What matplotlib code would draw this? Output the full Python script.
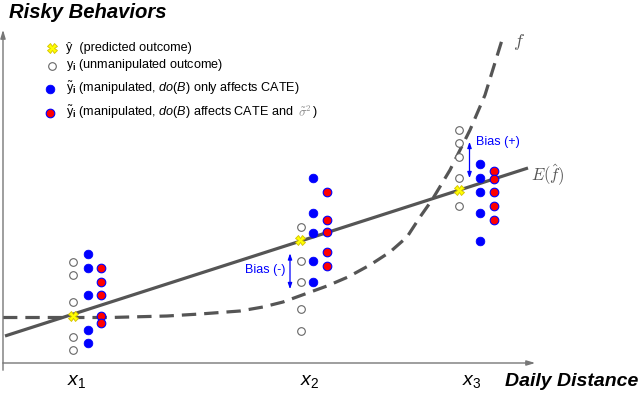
import numpy as np
import matplotlib.pyplot as plt

plt.rcParams['font.family'] = ['Liberation Sans', 'DejaVu Sans']
plt.rcParams['mathtext.fontset'] = 'custom'
plt.rcParams['mathtext.rm'] = 'Liberation Sans'
plt.rcParams['mathtext.it'] = 'Liberation Sans:italic'
plt.rcParams['mathtext.bf'] = 'Liberation Sans:bold'

# Datos (coordenadas de pixel, y hacia abajo)
fit_x = [5, 528]
fit_y = [336, 168]

true_x = [3, 60, 110, 167, 200, 240, 263, 283, 305, 327, 348, 370, 390, 407, 420, 432, 450, 470, 485, 502]
true_y = [317.5, 317.5, 317.5, 316, 314, 311, 307, 302, 294, 286, 277, 265, 252, 237, 217, 200, 170, 130, 95, 40]

pred_x = [72.7, 300.0, 459.3]
pred_y = [315.7, 240.0, 190.3]

obs_x = [72.7] * 5 + [300.7] * 5 + [459.3] * 5
obs_y = [262, 275, 302, 337, 350,
         226.7, 260.7, 281.7, 309.3, 330.7,
         130, 143.3, 157.3, 178.3, 205.7]

cate_x = [87.7] * 5 + [313.3] * 5 + [480.0] * 5
cate_y = [254, 268, 295, 330, 343,
          178.3, 212.7, 233.3, 260.7, 281.7,
          164.3, 178.3, 192.3, 212.7, 240.7]

var_x = [100.7] * 5 + [326.7] * 5 + [494.0] * 5
var_y = [268, 282, 295, 316, 323,
         192.3, 220, 231.7, 251.7, 266,
         170.7, 179, 192.3, 205.7, 220]

tick_x = [67, 300, 462]
tick_labels = [r"$\mathit{x}_{\mathit{1}}$", r"$\mathit{x}_{\mathit{2}}$", r"$\mathit{x}_{\mathit{3}}$"]

GRIS = '#555555'
AZUL = '#0000ff'
ROJO = '#ff0000'

fig = plt.figure(figsize=(6.4, 3.93), dpi=100)
ax = fig.add_axes([0, 0, 1, 1])
ax.set_xlim(0, 640)
ax.set_ylim(393, 0)
ax.axis('off')

# Ejes con flecha
ax.annotate('', xy=(538, 363), xytext=(0, 363),
            arrowprops=dict(arrowstyle='-|>,head_length=0.5,head_width=0.15', color='#777777', lw=1))
ax.annotate('', xy=(3, 27), xytext=(3, 373),
            arrowprops=dict(arrowstyle='-|>,head_length=0.5,head_width=0.15', color='#777777', lw=1))

# Curvas
ax.plot(true_x, true_y, color=GRIS, lw=2.3, dashes=(4.5, 2.5), solid_capstyle='butt')
ax.plot(fit_x, fit_y, color=GRIS, lw=2.3, solid_capstyle='butt')

# Puntos
ax.plot(obs_x, obs_y, 'o', ms=5.5, mfc='white', mec='#666666', mew=0.8, ls='none')
ax.plot(cate_x, cate_y, 'o', ms=6.2, mfc=AZUL, mec=AZUL, mew=0.6, ls='none')
ax.plot(var_x, var_y, 'o', ms=6.2, mfc=ROJO, mec=AZUL, mew=0.8, ls='none')
ax.plot(pred_x, pred_y, 'X', ms=7, mfc='#ffff00', mec='#d4c000', mew=0.6, ls='none', zorder=5)

# Sesgos
ax.annotate('', xy=(290, 250.5), xytext=(290, 292),
            arrowprops=dict(arrowstyle='<|-|>,head_length=0.35,head_width=0.12', color=AZUL, lw=0.9))
ax.text(265, 270, 'Bias (-)', color=AZUL, fontsize=9, ha='center', va='center')
ax.annotate('', xy=(469.5, 139), xytext=(469.5, 181),
            arrowprops=dict(arrowstyle='<|-|>,head_length=0.35,head_width=0.12', color=AZUL, lw=0.9))
ax.text(476, 142, 'Bias (+)', color=AZUL, fontsize=9, ha='left', va='center')

# Etiquetas de curvas
ax.text(531, 175, r'$E(\hat{f})$', color=GRIS, fontsize=12, va='center', ha='left', math_fontfamily='cm')
ax.text(513, 42, r'$f$', color=GRIS, fontsize=13, va='center', ha='left', math_fontfamily='cm')

# Leyenda
ax.plot([52], [48], 'X', ms=7, mfc='#ffff00', mec='#d4c000', mew=0.6)
ax.plot([52], [66], 'o', ms=5.5, mfc='white', mec='#666666', mew=0.8)
ax.plot([50], [89], 'o', ms=6.2, mfc=AZUL, mec=AZUL, mew=0.6)
ax.plot([50], [113], 'o', ms=6.2, mfc=ROJO, mec=AZUL, mew=0.8)
fs = 9.1
ax.text(66, 48, u'ŷ  (predicted outcome)', fontsize=fs, va='center')
ax.text(66, 65, r'$\mathrm{y}_{\mathbf{i}}$ (unmanipulated outcome)', fontsize=fs, va='center')
ax.text(66, 88, r'$\tilde{\mathrm{y}}_{\mathbf{i}}$ (manipulated, $\mathit{do(B)}$ only affects CATE)', fontsize=fs, va='center')
t4 = ax.text(66, 112, r'$\tilde{\mathrm{y}}_{\mathbf{i}}$ (manipulated, $\mathit{do(B)}$ affects CATE and  ', fontsize=fs, va='center')
fig.canvas.draw()
x_fin = t4.get_window_extent().x1
t5 = ax.text(x_fin, 112, r'$\tilde{\sigma}^2$', fontsize=fs, va='center', color='#888888', math_fontfamily='cm')
fig.canvas.draw()
ax.text(t5.get_window_extent().x1 + 2, 112, ')', fontsize=fs, va='center')

# Titulos
ax.text(9, 12, 'Risky Behaviors', fontsize=14.6, fontweight='bold', fontstyle='italic', va='center')
ax.text(638, 382, 'Daily Distance', fontsize=14, fontweight='bold', fontstyle='italic', va='center', ha='right')
for xt, lab in zip(tick_x, tick_labels):
    ax.text(xt, 381, lab, fontsize=14, va='center', ha='left')

fig.savefig('out.png', dpi=100)
